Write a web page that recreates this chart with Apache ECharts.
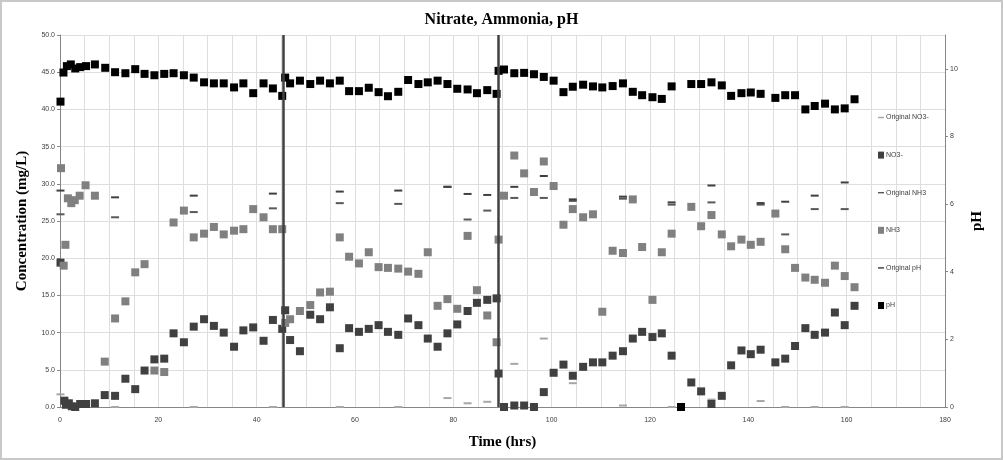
<!DOCTYPE html>
<html>
<head>
<meta charset="utf-8">
<script src="https://cdn.jsdelivr.net/npm/echarts@6/dist/echarts.min.js"></script>
<style>
html,body{margin:0;padding:0;background:#fff;}
#frame{position:absolute;left:0;top:0;width:1003px;height:460px;box-sizing:border-box;border:2px solid #c8c8c8;}
#chart{position:absolute;left:0;top:0;width:1003px;height:460px;}
</style>
</head>
<body>
<div id="frame"></div>
<div id="chart"></div>
<script>
// ---- data (time in hrs) ----
const phTime = [0.1,0.7,1.4,2.2,3.1,4.1,5.3,7.1,9.2,11.2,13.3,15.3,17.2,19.2,21.2,23.1,25.2,27.2,29.3,31.3,33.3,35.4,37.3,39.3,41.4,43.3,45.2,45.8,46.8,48.8,50.9,52.9,54.9,56.9,58.8,60.8,62.8,64.8,66.7,68.8,70.8,72.9,74.8,76.8,78.8,80.8,82.9,84.8,86.9,88.8,89.2,90.3,92.4,94.4,96.4,98.4,100.4,102.4,104.3,106.4,108.4,110.3,112.4,114.5,116.5,118.4,120.5,122.4,124.4,126.3,128.4,130.4,132.5,134.6,136.5,138.6,140.5,142.5,145.5,147.5,149.5,151.6,153.5,155.6,157.6,159.6,161.6];
const phValues = [9.03,9.89,10.08,10.13,10.01,10.05,10.08,10.13,10.03,9.90,9.87,9.99,9.85,9.81,9.85,9.87,9.81,9.74,9.60,9.57,9.57,9.45,9.57,9.28,9.57,9.42,9.20,9.74,9.57,9.65,9.55,9.65,9.57,9.65,9.34,9.34,9.44,9.31,9.19,9.32,9.67,9.55,9.60,9.65,9.55,9.41,9.39,9.28,9.37,9.26,9.94,9.98,9.87,9.88,9.84,9.76,9.65,9.31,9.47,9.53,9.48,9.45,9.49,9.57,9.32,9.22,9.16,9.11,9.48,0,9.55,9.55,9.60,9.51,9.20,9.28,9.30,9.26,9.14,9.22,9.22,8.80,8.90,8.97,8.80,8.83,9.10];

const no3Time = [0.1,0.9,1.2,1.8,2.4,3.1,4.1,5.3,7.1,9.1,11.2,13.3,15.3,17.2,19.2,21.2,23.1,25.2,27.2,29.3,31.3,33.3,35.4,37.3,39.3,41.4,43.3,45.2,45.8,46.8,48.8,50.9,52.9,54.9,56.9,58.8,60.8,62.8,64.8,66.7,68.8,70.8,72.9,74.8,76.8,78.8,80.8,82.9,84.8,86.9,88.8,89.2,90.3,92.4,94.4,96.4,98.4,100.4,102.4,104.3,106.4,108.4,110.3,112.4,114.5,116.5,118.4,120.5,122.4,124.4,128.4,130.4,132.5,134.6,136.5,138.6,140.5,142.5,145.5,147.5,149.5,151.6,153.5,155.6,157.6,159.6,161.6];
const no3Values = [19.4,0.85,0.3,0.5,0.1,0.0,0.4,0.4,0.5,1.6,1.5,3.8,2.4,4.9,6.4,6.5,9.9,8.7,10.8,11.8,10.9,10.0,8.1,10.3,10.7,8.9,11.7,10.5,13.0,9.0,7.5,12.4,11.8,13.4,7.9,10.6,10.1,10.5,11.0,10.1,9.7,11.9,11.0,9.2,8.1,9.9,11.1,12.9,14.0,14.4,14.6,4.5,0.0,0.2,0.2,0.0,2.0,4.6,5.7,4.2,5.4,6.0,6.0,6.9,7.5,9.2,10.1,9.4,9.9,6.9,3.3,2.1,0.4,1.5,5.6,7.6,7.1,7.7,6.0,6.5,8.2,10.6,9.7,10.0,12.7,11.0,13.6];

const nh3Time = [0.2,0.75,1.1,1.6,2.3,3.0,4.0,5.2,7.1,9.1,11.2,13.3,15.3,17.2,19.2,21.2,23.1,25.2,27.2,29.3,31.3,33.3,35.4,37.3,39.3,41.4,43.3,45.2,45.8,46.8,48.8,50.9,52.9,54.9,56.9,58.8,60.8,62.8,64.8,66.7,68.8,70.8,72.9,74.8,76.8,78.8,80.8,82.9,84.8,86.9,88.8,89.2,90.3,92.4,94.4,96.4,98.4,100.4,102.4,104.3,106.4,108.4,110.3,112.4,114.5,116.5,118.4,120.5,122.4,124.4,128.4,130.4,132.5,134.6,136.5,138.6,140.5,142.5,145.5,147.5,149.5,151.6,153.5,155.6,157.6,159.6,161.6];
const nh3Values = [32.1,19.0,21.8,28.05,27.4,27.8,28.4,29.8,28.4,6.1,11.9,14.2,18.1,19.2,4.9,4.7,24.8,26.4,22.8,23.3,24.2,23.2,23.7,23.9,26.6,25.5,23.9,23.9,11.3,11.8,12.9,13.7,15.4,15.5,22.8,20.2,19.3,20.8,18.8,18.7,18.6,18.2,17.9,20.8,13.6,14.5,13.2,23.0,15.7,12.3,8.7,22.5,28.4,33.8,31.4,28.9,33.0,29.7,24.5,26.6,25.5,25.9,12.8,21.0,20.7,27.9,21.5,14.4,20.8,23.3,26.9,24.3,25.8,23.2,21.6,22.5,21.8,22.2,26.0,21.2,18.7,17.4,17.1,16.7,19.0,17.6,16.1];

const origTime = [0.1,11.2,27.2,43.3,56.9,68.8,78.8,82.9,86.9,92.4,98.4,104.3,114.5,124.4,132.5,142.5,147.5,153.5,159.6];
const origNO3 = [1.7,0.0,0.0,0.0,0.0,0.0,1.2,0.5,0.7,5.8,9.2,3.2,0.2,0.0,1.0,0.8,0.0,0.0,0.0];
const origNH3 = [25.9,25.5,26.2,26.7,27.4,27.3,29.6,25.2,26.4,28.1,28.1,27.7,28.0,27.2,27.5,27.2,23.2,26.6,26.6];
const origPH = [6.40,6.20,6.25,6.31,6.37,6.40,6.51,6.30,6.27,6.51,6.83,6.14,6.22,6.05,6.55,6.03,6.07,6.25,6.64];

const phaseLines = [45.4, 89.2];

const xTickLabelStep = 20;
const leftAxisMax = 50, leftAxisStep = 5;
const rightAxisMax = 11, rightAxisStep = 2;

// ---- helpers ----
const zip = (t, v) => t.map((x, i) => [x, v[i]]);
const serif = '"Liberation Serif", "Times New Roman", serif';
const sans = '"Liberation Sans", Arial, sans-serif';
const dashIcon = 'path://M0,0H10V2.4H0Z';

const chart = echarts.init(document.getElementById('chart'), null, {renderer: 'canvas'});
const option = {
  animation: false,
  backgroundColor: 'transparent',
  title: {
    text: 'Nitrate, Ammonia, pH',
    left: 'center', top: 7,
    textStyle: {fontFamily: serif, fontWeight: 'bold', fontSize: 16, color: '#000'}
  },
  grid: {left: 60, right: 58, top: 35, bottom: 53, containLabel: false},
  legend: {
    orient: 'vertical', left: 873, top: 109,
    itemWidth: 6, itemHeight: 7, itemGap: 30.6,
    textStyle: {fontFamily: sans, fontSize: 7, color: '#404040', padding: [0, 0, 0, -3]},
    data: [
      {name: 'Original NO3-', icon: dashIcon},
      {name: 'NO3-', icon: 'rect'},
      {name: 'Original NH3', icon: dashIcon},
      {name: 'NH3', icon: 'rect'},
      {name: 'Original pH', icon: dashIcon},
      {name: 'pH', icon: 'rect'}
    ]
  },
  xAxis: {
    type: 'value', min: 0, max: 180, interval: 5,
    name: 'Time (hrs)', nameLocation: 'middle', nameGap: 28,
    nameTextStyle: {fontFamily: serif, fontWeight: 'bold', fontSize: 15, color: '#000'},
    axisLine: {lineStyle: {color: '#868686'}},
    axisTick: {show: false},
    axisLabel: {fontFamily: sans, fontSize: 7, color: '#404040', margin: 10,
      formatter: v => (v % xTickLabelStep === 0 ? String(v) : '')},
    splitLine: {show: true, lineStyle: {color: '#dedede', width: 1}}
  },
  yAxis: [
    {
      type: 'value', min: 0, max: leftAxisMax, interval: leftAxisStep,
      name: 'Concentration (mg/L)', nameLocation: 'middle', nameGap: 30, nameRotate: 90,
      nameTextStyle: {fontFamily: serif, fontWeight: 'bold', fontSize: 15, color: '#000'},
      axisLine: {show: true, lineStyle: {color: '#868686'}},
      axisTick: {show: true, length: 3, lineStyle: {color: '#868686'}},
      axisLabel: {fontFamily: sans, fontSize: 7, color: '#404040', margin: 5,
        formatter: v => v.toFixed(1)},
      splitLine: {show: true, lineStyle: {color: '#dedede', width: 1}}
    },
    {
      type: 'value', min: 0, max: rightAxisMax, interval: rightAxisStep,
      name: 'pH', nameLocation: 'middle', nameGap: 25, nameRotate: 90,
      nameTextStyle: {fontFamily: serif, fontWeight: 'bold', fontSize: 15, color: '#000'},
      axisLine: {show: true, lineStyle: {color: '#868686'}},
      axisTick: {show: true, length: 3, lineStyle: {color: '#868686'}},
      axisLabel: {fontFamily: sans, fontSize: 7, color: '#404040', margin: 5, showMaxLabel: false},
      splitLine: {show: false}
    }
  ],
  series: [
    {
      name: 'Original NO3-', type: 'scatter', yAxisIndex: 0,
      symbol: 'rect', symbolSize: [8, 2],
      itemStyle: {color: '#a6a6a6', opacity: 1},
      data: zip(origTime, origNO3)
    },
    {
      name: 'NO3-', type: 'scatter', yAxisIndex: 0,
      symbol: 'rect', symbolSize: 8,
      itemStyle: {color: '#404040', opacity: 1},
      data: zip(no3Time, no3Values),
      markLine: {
        silent: true, symbol: ['none', 'none'], label: {show: false},
        lineStyle: {color: '#404040', width: 2.5, type: 'solid', opacity: 1},
        data: phaseLines.map(x => ({xAxis: x}))
      }
    },
    {
      name: 'Original NH3', type: 'scatter', yAxisIndex: 0,
      symbol: 'rect', symbolSize: [8, 2],
      itemStyle: {color: '#595959', opacity: 1},
      data: zip(origTime, origNH3)
    },
    {
      name: 'NH3', type: 'scatter', yAxisIndex: 0,
      symbol: 'rect', symbolSize: 8,
      itemStyle: {color: '#808080', opacity: 1},
      data: zip(nh3Time, nh3Values)
    },
    {
      name: 'Original pH', type: 'scatter', yAxisIndex: 1,
      symbol: 'rect', symbolSize: [8, 2],
      itemStyle: {color: '#404040', opacity: 1},
      data: zip(origTime, origPH)
    },
    {
      name: 'pH', type: 'scatter', yAxisIndex: 1,
      symbol: 'rect', symbolSize: 8,
      itemStyle: {color: '#000000', opacity: 1},
      data: zip(phTime, phValues)
    }
  ]
};
chart.setOption(option);
</script>
</body>
</html>
